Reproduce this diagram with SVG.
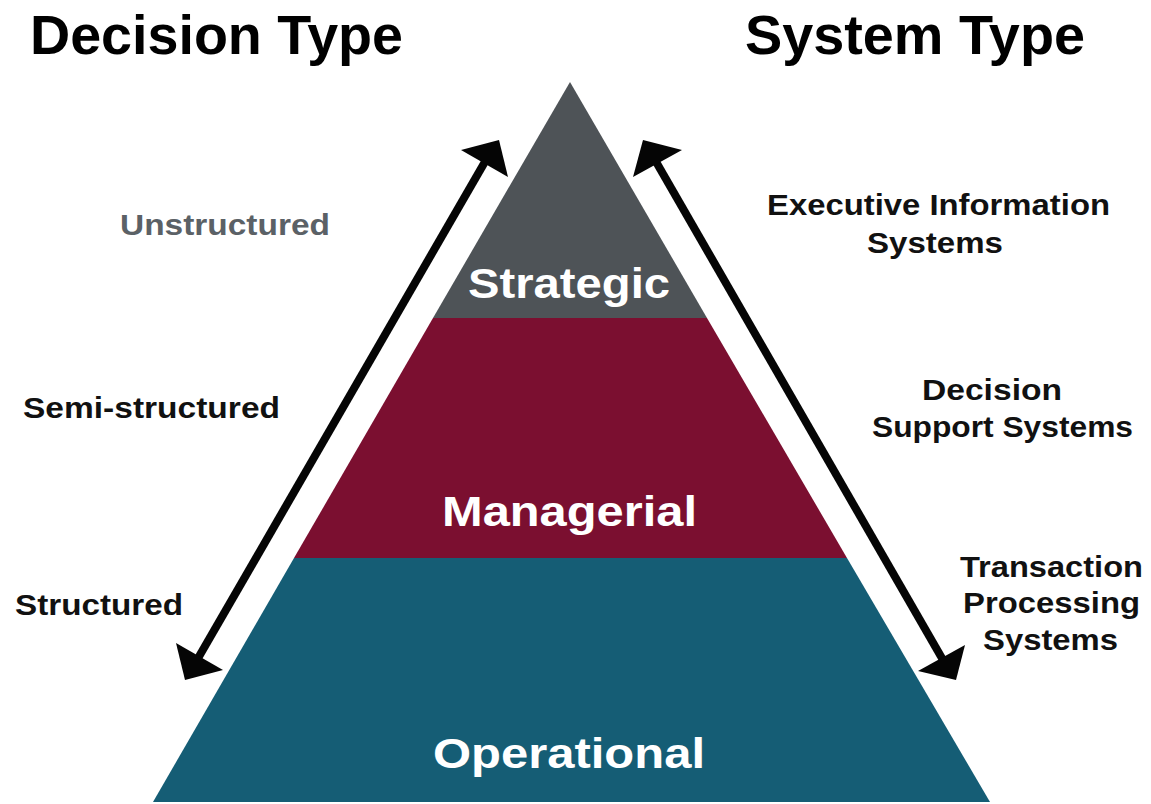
<svg xmlns="http://www.w3.org/2000/svg" width="1151" height="804" viewBox="0 0 1151 804">
<style>
text{font-family:"Liberation Sans",Arial,Helvetica,sans-serif;font-weight:bold}
.title{font-size:55px;fill:#000}
.lbl{font-size:29px;fill:#111}
.band{font-size:42px;fill:#fff}
.arr{stroke:#050505;stroke-width:8;fill:none}
.head{fill:#050505}
</style>
<rect width="1151" height="804" fill="#fff"/>
<g id="title-decision"><text class="title" x="30" y="54" textLength="373" lengthAdjust="spacingAndGlyphs">Decision Type</text></g>
<g id="title-system"><text class="title" x="745" y="54" textLength="340" lengthAdjust="spacingAndGlyphs">System Type</text></g>
<g id="strategic">
<polygon points="570,82 707,318 433,318" fill="#4e5357"/>
<text class="band" x="468" y="298" font-size="39" textLength="202" lengthAdjust="spacingAndGlyphs">Strategic</text>
</g>
<g id="managerial">
<polygon points="433,318 707,318 847,558 294,558" fill="#7b0f30"/>
<text class="band" x="442" y="526" textLength="255" lengthAdjust="spacingAndGlyphs">Managerial</text>
</g>
<g id="operational">
<polygon points="294,558 847,558 990,802 153,802" fill="#155d75"/>
<text class="band" x="433" y="768" textLength="272" lengthAdjust="spacingAndGlyphs">Operational</text>
</g>
<g id="unstructured"><text class="lbl" x="120" y="235" fill="#5b6166" style="fill:#5b6166" textLength="210" lengthAdjust="spacingAndGlyphs">Unstructured</text></g>
<g id="semi-structured"><text class="lbl" x="23" y="418" textLength="257" lengthAdjust="spacingAndGlyphs">Semi-structured</text></g>
<g id="structured"><text class="lbl" x="15" y="615" textLength="168" lengthAdjust="spacingAndGlyphs">Structured</text></g>
<g id="eis">
<text class="lbl" x="767" y="215" textLength="343" lengthAdjust="spacingAndGlyphs">Executive Information</text>
<text class="lbl" x="867" y="253" textLength="136" lengthAdjust="spacingAndGlyphs">Systems</text>
</g>
<g id="dss">
<text class="lbl" x="922" y="400" textLength="140" lengthAdjust="spacingAndGlyphs">Decision</text>
<text class="lbl" x="872" y="437" textLength="261" lengthAdjust="spacingAndGlyphs">Support Systems</text>
</g>
<g id="tps">
<text class="lbl" x="960" y="577" textLength="183" lengthAdjust="spacingAndGlyphs">Transaction</text>
<text class="lbl" x="963" y="613" textLength="177" lengthAdjust="spacingAndGlyphs">Processing</text>
<text class="lbl" x="983" y="650" textLength="135" lengthAdjust="spacingAndGlyphs">Systems</text>
</g>
<g id="connectors">
<line class="arr" x1="486" y1="160" x2="197" y2="660"/>
<polygon class="head" points="499,140 461,150 508,177"/>
<polygon class="head" points="185,680 176,643 223,670"/>
<line class="arr" x1="655" y1="160" x2="943" y2="660"/>
<polygon class="head" points="643,140 633,177 682,150"/>
<polygon class="head" points="956,680 918,671 965,645"/>
</g>
</svg>
